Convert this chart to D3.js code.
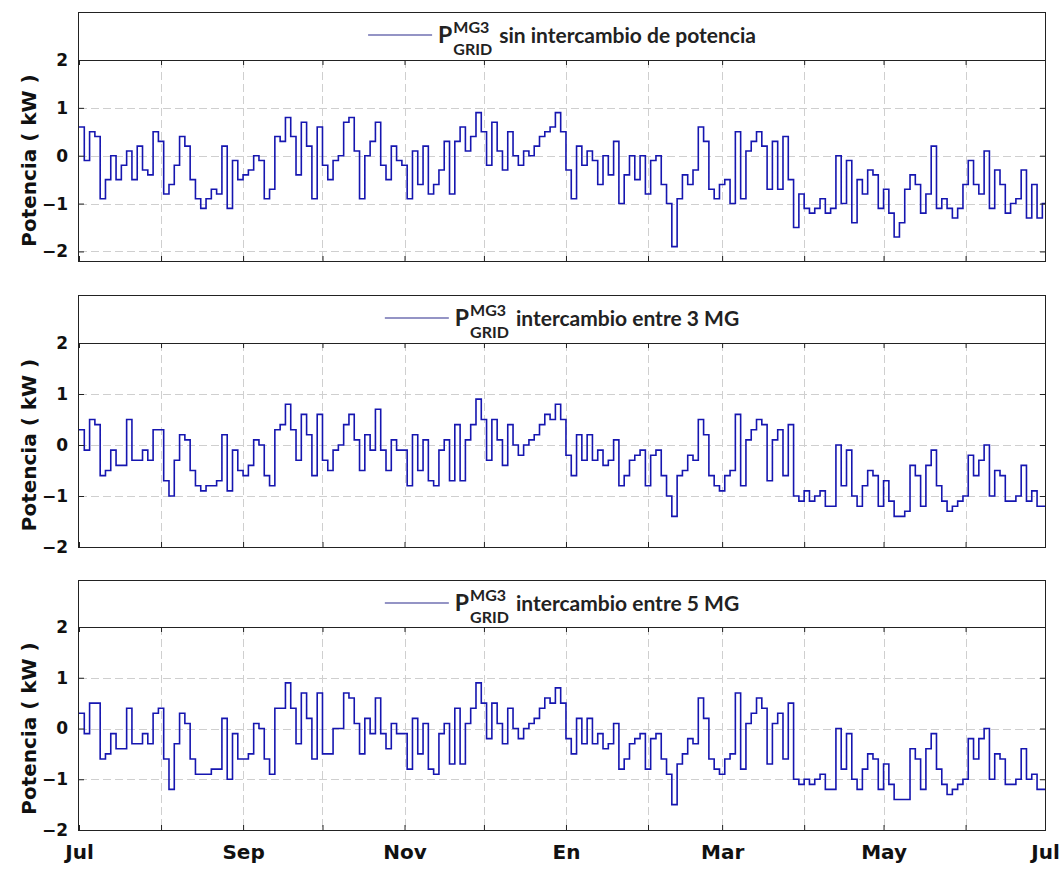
<!DOCTYPE html>
<html>
<head>
<meta charset="utf-8">
<script src="https://cdn.jsdelivr.net/npm/d3@7"></script>
<style>
  body { margin: 0; background: #fff; }
  svg { display: block; }
</style>
</head>
<body>
<div id="chart"></div>
<script>
// P_GRID of MG3 in kW, one value every 2 days from 1 Jul
const stepDays = 2;

const pSinIntercambio = [
  0.6, -0.1, 0.5, 0.4, -0.9, -0.5, 0.0, -0.5, -0.2, 0.1,
  -0.5, 0.2, -0.3, -0.4, 0.5, 0.3, -0.8, -0.6, -0.2, 0.4,
  0.2, -0.5, -0.9, -1.1, -0.9, -0.7, -0.8, 0.2, -1.1, -0.1,
  -0.5, -0.4, -0.3, 0.0, -0.1, -0.9, -0.7, 0.4, 0.3, 0.8,
  0.4, -0.4, 0.7, 0.2, -0.9, 0.6, -0.2, -0.5, -0.1, 0.0,
  0.7, 0.8, 0.1, -0.9, 0.0, 0.3, 0.7, -0.2, -0.5, 0.2,
  -0.1, -0.2, -0.9, 0.1, -0.6, 0.2, -0.8, -0.6, -0.3, 0.3,
  -0.8, 0.3, 0.6, 0.1, 0.4, 0.9, 0.5, -0.2, 0.7, 0.1,
  -0.3, 0.5, 0.0, -0.2, 0.1, 0.0, 0.2, 0.4, 0.5, 0.6,
  0.9, 0.5, -0.3, -0.9, 0.2, -0.2, 0.1, -0.1, -0.6, 0.0,
  -0.4, 0.3, -1.0, -0.4, 0.0, -0.5, 0.0, -0.8, -0.1, 0.0,
  -0.6, -1.0, -1.9, -0.9, -0.4, -0.6, -0.3, 0.6, 0.3, -0.7,
  -0.9, -0.6, -0.5, -1.0, 0.5, -0.9, 0.1, 0.3, 0.5, 0.2,
  -0.7, 0.3, -0.7, 0.4, -0.5, -1.5, -0.8, -1.1, -1.2, -1.1,
  -0.9, -1.2, -1.1, 0.0, -1.0, -0.1, -1.4, -0.5, -0.8, -0.3,
  -0.4, -1.1, -0.7, -1.2, -1.7, -1.4, -0.7, -0.4, -0.6, -1.2,
  -0.8, 0.2, -1.1, -0.9, -1.1, -1.3, -1.1, -0.6, -0.1, -0.6,
  -0.8, 0.1, -1.1, -0.3, -0.6, -1.2, -1.0, -0.9, -0.3, -1.3,
  -0.6, -1.3, -1.0
];

const pIntercambio3 = [
  0.3, -0.1, 0.5, 0.4, -0.6, -0.5, -0.1, -0.4, -0.4, 0.5,
  -0.3, -0.3, -0.1, -0.3, 0.3, 0.3, -0.7, -1.0, -0.3, 0.2,
  0.1, -0.5, -0.8, -0.9, -0.8, -0.8, -0.7, 0.2, -0.9, -0.1,
  -0.5, -0.6, -0.4, 0.1, 0.0, -0.6, -0.8, 0.3, 0.4, 0.8,
  0.3, -0.3, 0.6, 0.2, -0.6, 0.6, -0.3, -0.5, -0.1, 0.0,
  0.4, 0.6, 0.1, -0.5, 0.2, -0.1, 0.7, -0.1, -0.5, 0.1,
  -0.1, -0.1, -0.8, 0.2, -0.5, 0.1, -0.7, -0.8, -0.1, 0.1,
  -0.7, 0.4, -0.7, 0.1, 0.4, 0.9, 0.5, -0.3, 0.5, 0.1,
  -0.4, 0.4, 0.0, -0.2, 0.0, 0.1, 0.2, 0.4, 0.6, 0.5,
  0.8, 0.5, -0.2, -0.6, 0.2, -0.3, 0.2, -0.3, -0.1, -0.4,
  -0.3, 0.1, -0.8, -0.6, -0.3, -0.2, -0.1, -0.8, -0.2, -0.1,
  -0.6, -1.0, -1.4, -0.6, -0.5, -0.2, -0.3, 0.5, 0.2, -0.6,
  -0.8, -0.9, -0.6, -0.5, 0.6, -0.8, 0.1, 0.3, 0.5, 0.4,
  -0.7, 0.1, 0.3, -0.6, 0.4, -1.0, -1.1, -0.9, -1.1, -1.0,
  -0.9, -1.2, -1.2, 0.0, -0.8, -0.1, -1.0, -1.2, -0.8, -0.5,
  -0.6, -1.2, -0.7, -1.1, -1.4, -1.4, -1.3, -0.4, -0.6, -1.2,
  -0.4, -0.1, -0.8, -1.1, -1.3, -1.2, -1.1, -1.0, -0.2, -0.6,
  -0.3, 0.0, -1.0, -0.5, -0.6, -1.1, -1.1, -1.0, -0.4, -1.1,
  -0.9, -1.2, -1.2
];

const pIntercambio5 = [
  0.3, -0.1, 0.5, 0.5, -0.6, -0.5, -0.1, -0.4, -0.4, 0.4,
  -0.3, -0.3, -0.1, -0.3, 0.3, 0.4, -0.6, -1.2, -0.3, 0.3,
  0.1, -0.6, -0.9, -0.9, -0.9, -0.8, -0.8, 0.2, -1.0, -0.1,
  -0.6, -0.6, -0.5, 0.1, 0.0, -0.6, -0.9, 0.4, 0.4, 0.9,
  0.4, -0.3, 0.7, 0.2, -0.6, 0.7, -0.5, -0.5, 0.0, 0.0,
  0.7, 0.6, 0.1, -0.5, 0.2, -0.1, 0.6, -0.1, -0.4, 0.1,
  -0.1, -0.1, -0.8, 0.2, -0.5, 0.1, -0.8, -0.9, -0.1, 0.1,
  -0.7, 0.4, -0.7, 0.1, 0.4, 0.9, 0.5, -0.2, 0.5, 0.1,
  -0.3, 0.4, 0.0, -0.2, 0.0, 0.1, 0.2, 0.4, 0.6, 0.5,
  0.8, 0.5, -0.2, -0.5, 0.2, -0.3, 0.2, -0.3, -0.1, -0.4,
  -0.3, 0.1, -0.8, -0.6, -0.3, -0.2, -0.1, -0.8, -0.2, -0.1,
  -0.6, -0.9, -1.5, -0.7, -0.5, -0.2, -0.3, 0.6, 0.2, -0.6,
  -0.8, -0.9, -0.6, -0.5, 0.7, -0.8, 0.1, 0.3, 0.6, 0.4,
  -0.7, 0.1, 0.3, -0.6, 0.5, -1.0, -1.1, -1.0, -1.1, -1.0,
  -0.9, -1.2, -1.2, 0.0, -0.8, -0.1, -1.0, -1.2, -0.8, -0.5,
  -0.6, -1.2, -0.7, -1.1, -1.4, -1.4, -1.4, -0.4, -0.6, -1.2,
  -0.4, -0.1, -0.8, -1.1, -1.3, -1.2, -1.1, -1.0, -0.2, -0.6,
  -0.2, 0.0, -1.0, -0.5, -0.6, -1.1, -1.1, -1.0, -0.4, -1.0,
  -0.9, -1.2, -1.2
];

const monthLabels = ["Jul", "", "Sep", "", "Nov", "", "En", "", "Mar", "", "May", "", "Jul"];
const yTicks = [-2, -1, 0, 1, 2];
const legendTexts = ["sin intercambio de potencia", "intercambio entre 3 MG", "intercambio entre 5 MG"];

const width = 1062, height = 870;
const left = 79, right = 1045;
const start = new Date(Date.UTC(2018, 6, 1));
const end = new Date(Date.UTC(2019, 6, 1));

const panels = [
  { values: pSinIntercambio, label: legendTexts[0], boxTop: 12, top: 60, bottom: 261, yMin: -2.2 },
  { values: pIntercambio3, label: legendTexts[1], boxTop: 295, top: 343, bottom: 547, yMin: -2 },
  { values: pIntercambio5, label: legendTexts[2], boxTop: 580, top: 627, bottom: 830, yMin: -2 }
];

const svg = d3.select("#chart").append("svg")
    .attr("width", width)
    .attr("height", height)
    .style("background", "#fff");

const x = d3.scaleUtc().domain([start, end]).range([left, right]);
const months = d3.utcMonths(start, new Date(end.getTime() + 1));

const axisColor = "#222";
const lineColor = "#1616b0";

panels.forEach((p, k) => {
    const y = d3.scaleLinear().domain([p.yMin, 2]).range([p.bottom, p.top]);
    const isLast = k === panels.length - 1;

    // legend box
    svg.append("rect")
        .attr("x", left - 0.5).attr("y", p.boxTop + 0.5)
        .attr("width", right - left + 1).attr("height", p.top - p.boxTop)
        .attr("fill", "#fff").attr("stroke", axisColor).attr("stroke-width", 1);

    // grid
    const grid = svg.append("g")
        .attr("stroke", "#cfcfcf").attr("stroke-width", 1).attr("stroke-dasharray", "8,4");
    grid.selectAll(".vg").data(months.slice(1, -1)).join("line")
        .attr("x1", d => Math.round(x(d)) + 0.5).attr("x2", d => Math.round(x(d)) + 0.5)
        .attr("y1", p.top).attr("y2", p.bottom);
    grid.selectAll(".hg").data(yTicks.filter(v => v < 2 && v > p.yMin)).join("line")
        .attr("x1", left).attr("x2", right)
        .attr("y1", d => Math.round(y(d)) + 0.5).attr("y2", d => Math.round(y(d)) + 0.5);

    // data
    const clipId = "clip" + k;
    svg.append("clipPath").attr("id", clipId)
        .append("rect").attr("x", left).attr("y", p.top)
        .attr("width", right - left).attr("height", p.bottom - p.top);

    const pts = p.values.map((v, i) => ({ date: d3.utcDay.offset(start, i * stepDays), v }));
    pts.push({ date: end, v: p.values[p.values.length - 1] });

    svg.append("path")
        .datum(pts)
        .attr("clip-path", `url(#${clipId})`)
        .attr("fill", "none")
        .attr("stroke", lineColor)
        .attr("stroke-width", 1.6)
        .attr("d", d3.line().curve(d3.curveStepAfter).x(d => x(d.date)).y(d => y(d.v)));

    // axes
    const tickFont = g => g.selectAll("text")
        .attr("font-family", "'DejaVu Sans', Verdana, sans-serif")
        .attr("font-weight", "bold")
        .attr("fill", "#111");

    svg.append("g")
        .attr("transform", `translate(${left},0)`)
        .call(d3.axisLeft(y).tickValues(yTicks).tickSize(-5).tickPadding(11).tickFormat(d3.format("d")))
        .call(g => g.select(".domain").remove())
        .call(g => g.selectAll("line").attr("stroke", axisColor))
        .call(tickFont)
        .attr("font-size", 17);

    svg.append("g")
        .attr("transform", `translate(${right},0)`)
        .call(d3.axisRight(y).tickValues(yTicks).tickSize(-5).tickFormat(""))
        .call(g => g.select(".domain").remove())
        .call(g => g.selectAll("line").attr("stroke", axisColor));

    svg.append("g")
        .attr("transform", `translate(0,${p.bottom})`)
        .call(d3.axisBottom(x).tickValues(months).tickSize(-5).tickPadding(15)
            .tickFormat((d, i) => isLast ? monthLabels[i] : ""))
        .call(g => g.select(".domain").remove())
        .call(g => g.selectAll("line").attr("stroke", axisColor))
        .call(tickFont)
        .attr("font-size", 20);

    svg.append("g")
        .attr("transform", `translate(0,${p.top})`)
        .call(d3.axisTop(x).tickValues(months).tickSize(-5).tickFormat(""))
        .call(g => g.select(".domain").remove())
        .call(g => g.selectAll("line").attr("stroke", axisColor));

    // plot frame
    svg.append("rect")
        .attr("x", left - 0.5).attr("y", p.top + 0.5)
        .attr("width", right - left + 1).attr("height", p.bottom - p.top)
        .attr("fill", "none").attr("stroke", axisColor).attr("stroke-width", 1);

    // y label
    svg.append("text")
        .attr("transform", `translate(36,${(p.top + p.bottom) / 2}) rotate(-90)`)
        .attr("text-anchor", "middle")
        .attr("font-family", "'DejaVu Sans', Verdana, sans-serif")
        .attr("font-weight", "bold")
        .attr("font-size", 20)
        .attr("fill", "#111")
        .text("Potencia ( kW )");

    // legend
    const lg = svg.append("g");
    lg.append("line").attr("x1", 0).attr("x2", 64).attr("y1", 0).attr("y2", 0)
        .attr("stroke", "#2b2b8c").attr("stroke-width", 1.2);
    const legendFont = "Lato, 'Open Sans', sans-serif";
    const pT = lg.append("text").attr("x", 70).attr("y", 8)
        .attr("font-family", legendFont).attr("font-weight", "bold").attr("font-size", 23)
        .attr("fill", "#222").text("P");
    const sx = 70 + pT.node().getComputedTextLength() + 1;
    const sup = lg.append("text").attr("x", sx).attr("y", -2)
        .attr("font-family", legendFont).attr("font-weight", "bold").attr("font-size", 16)
        .attr("fill", "#222").text("MG3");
    const sub = lg.append("text").attr("x", sx).attr("y", 20)
        .attr("font-family", legendFont).attr("font-weight", "bold").attr("font-size", 16)
        .attr("fill", "#222").text("GRID");
    const tx = sx + Math.max(sup.node().getComputedTextLength(), sub.node().getComputedTextLength()) + 7;
    const lt = lg.append("text").attr("x", tx).attr("y", 8)
        .attr("font-family", legendFont).attr("font-weight", "bold").attr("font-size", 21)
        .attr("fill", "#222").text(p.label);
    const total = tx + lt.node().getComputedTextLength();
    lg.attr("transform", `translate(${(left + right) / 2 - total / 2},${p.boxTop + 23})`);
});
</script>
</body>
</html>
